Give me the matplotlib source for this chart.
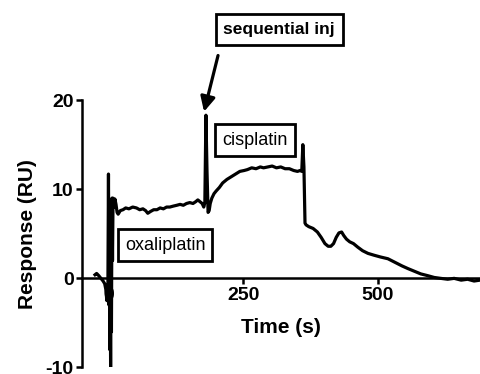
import matplotlib.pyplot as plt

plt.rcParams['font.family'] = ['Liberation Sans', 'DejaVu Sans']
plt.rcParams['axes.unicode_minus'] = False

# sensorgram (time in s, response in RU)
time_s = [-25, -22, -18, -14, -10, -7, -5, -3, -1, 0, 1, 1.5, 2.5, 3, 4, 5,
          5.5, 6.5, 7.5, 8.5, 10, 12, 14, 16, 18, 22, 27, 32, 38, 45, 52, 58,
          64, 69, 73, 78, 84, 90, 96, 102, 108, 114, 120, 127, 133, 139, 145,
          151, 157, 162, 166, 170, 174, 177, 179, 181, 183, 185, 187, 189, 192,
          196, 200, 206, 212, 220, 228, 236, 244, 252, 258, 266, 274, 282, 288,
          296, 304, 312, 320, 328, 336, 344, 351, 356, 359, 361, 363, 365, 367,
          372, 380, 388, 395, 402, 408, 413, 418, 423, 428, 433, 437, 442, 448,
          455, 463, 472, 482, 493, 505, 519, 532, 545, 556, 568, 580, 593, 605,
          617, 630, 642, 655, 667, 679, 690]
response = [0.4, 0.55, 0.3, 0.0, -0.3, -0.6, -1.2, -2.5, -0.5, 11.7, -3, 6,
            -8, 4, -10.1, 8, -6, 9, 2, 9, 8.0, 8.9, 8.3, 7.4, 7.2, 7.6, 7.7,
            7.9, 7.8, 8.0, 7.9, 7.7, 7.8, 7.6, 7.3, 7.5, 7.7, 7.7, 7.9, 7.8,
            8.0, 8.0, 8.1, 8.2, 8.3, 8.2, 8.4, 8.5, 8.4, 8.6, 8.8, 8.6, 8.4,
            8.0, 8.5, 18.3, 12, 7.4, 7.6, 8.4, 9.0, 9.5, 9.8, 10.2, 10.7, 11.1,
            11.4, 11.7, 12.0, 12.1, 12.2, 12.4, 12.3, 12.5, 12.4, 12.5, 12.6,
            12.4, 12.5, 12.3, 12.3, 12.1, 12.0, 12.1, 12.0, 15.0, 12.5, 6.2,
            6.0, 5.8, 5.6, 5.2, 4.6, 3.9, 3.6, 3.6, 3.9, 4.6, 5.1, 5.2, 4.8,
            4.4, 4.1, 3.9, 3.5, 3.1, 2.8, 2.6, 2.4, 2.2, 1.8, 1.4, 1.1, 0.8,
            0.5, 0.3, 0.1, 0.0, -0.1, 0.0, -0.2, -0.1, -0.3, -0.2]

x_ticks = [0, 250, 500]
y_ticks = [-10, 0, 10, 20]

fig = plt.figure(figsize=(4.8, 3.74), dpi=100)
ax = fig.add_axes([0.171, 0.0174, 0.829, 0.715])

ax.plot(time_s, response, color='black', lw=2.3, solid_joinstyle='round')

ax.set_xlim(-49, 690)
ax.set_ylim(-10, 20)
ax.set_xticks(x_ticks)
ax.set_yticks(y_ticks)

for side in ['top', 'right']:
    ax.spines[side].set_visible(False)
ax.spines['bottom'].set_position(('data', 0))
ax.spines['left'].set_bounds(-10, 20)
for side in ['left', 'bottom']:
    ax.spines[side].set_linewidth(1.8)

ax.tick_params(direction='out', length=4.5, width=1.8, labelsize=14, pad=1.5)
for lab in ax.get_xticklabels() + ax.get_yticklabels():
    lab.set_fontweight('bold')

ax.set_ylabel('Response (RU)', fontsize=15, fontweight='bold', labelpad=6)
ax.set_xlabel('Time (s)', fontsize=15, fontweight='bold')
ax.xaxis.set_label_coords(0.5, 0.185)

box = dict(boxstyle='square,pad=0.4', fc='white', ec='black', lw=2)
ax.text(105, 3.74, 'oxaliplatin', fontsize=13, ha='center', va='center', bbox=box)
ax.text(272, 15.5, 'cisplatin', fontsize=13, ha='center', va='center', bbox=box)
ax.text(317, 27.9, 'sequential inj', fontsize=12.5, fontweight='bold',
        ha='center', va='center', clip_on=False,
        bbox=dict(boxstyle='square,pad=0.45', fc='white', ec='black', lw=2))
ax.annotate('', xy=(177.5, 18.7), xytext=(203.5, 25.0),
            arrowprops=dict(arrowstyle='-|>', color='black', lw=2.3,
                            mutation_scale=22, shrinkA=0, shrinkB=0),
            annotation_clip=False)

fig.savefig('out.png', dpi=100)
